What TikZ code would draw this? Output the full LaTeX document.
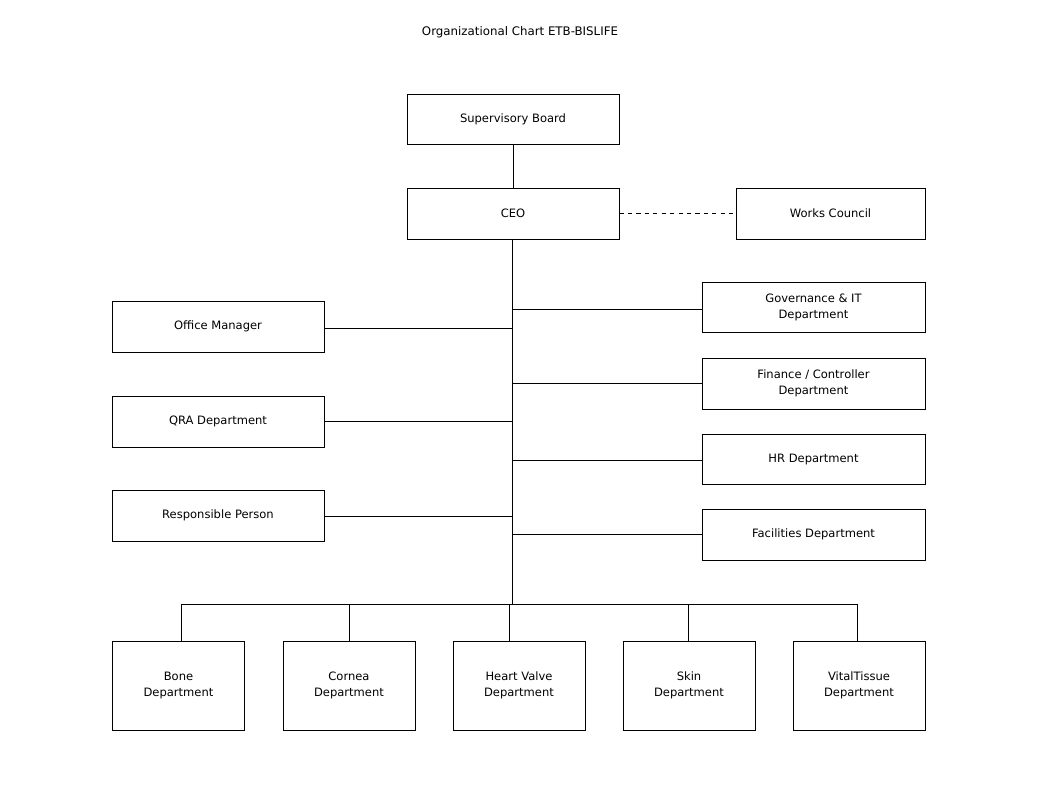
\documentclass[tikz,border=0pt]{standalone}
\usepackage{fontspec}
\setmainfont{DejaVu Sans}
\usetikzlibrary{positioning}
\tikzset{
  box/.style={draw, semithick, align=center, font=\fontsize{8.2}{11.4}\selectfont},
  link/.style={thin}
}
\begin{document}
\begin{tikzpicture}[x=0.025cm, y=-0.025cm]
            \useasboundingbox (0,0) rectangle (1041,796);
            \node[font=\fontsize{8.4}{10}\selectfont] (title) at (520,32) {Organizational Chart ETB-BISLIFE};
            \node[box, minimum width=212*0.7113pt, minimum height=50*0.7113pt] (sb) at (513,119) {Supervisory Board};
            \node[box, minimum width=212*0.7113pt, minimum height=51*0.7113pt] (ceo) at (513,213.5) {CEO};
            \node[box, minimum width=189*0.7113pt, minimum height=51*0.7113pt] (wc) at (830.5,213.5) {Works Council};
            % right side
            \node[box, minimum width=223*0.7113pt, minimum height=50*0.7113pt] (gov) at (813.5,307) {Governance \& IT\\Department};
            \node[box, minimum width=223*0.7113pt, minimum height=51*0.7113pt] (fin) at (813.5,383.5) {Finance / Controller\\Department};
            \node[box, minimum width=223*0.7113pt, minimum height=50*0.7113pt] (hr) at (813.5,459) {HR Department};
            \node[box, minimum width=223*0.7113pt, minimum height=51*0.7113pt] (fac) at (813.5,534.5) {Facilities Department};
            % left side
            \node[box, minimum width=212*0.7113pt, minimum height=51*0.7113pt] (om) at (218,326.5) {Office Manager};
            \node[box, minimum width=212*0.7113pt, minimum height=51*0.7113pt] (qra) at (218,421.5) {QRA Department};
            \node[box, minimum width=212*0.7113pt, minimum height=51*0.7113pt] (rp) at (218,515.5) {Responsible Person};
            % departments
            \foreach \name/\cx/\txt in {bone/178.5/Bone, cornea/349/Cornea, heart/519/Heart Valve, skin/689/Skin, vital/859/VitalTissue}
              \node[box, minimum width=132*0.7113pt, minimum height=89*0.7113pt] (\name) at (\cx,685.5) {\txt\\Department};
            \coordinate (bus) at (512,604);
            \draw[link] (sb) -- (ceo);
            \draw[link, dashed] (ceo) -- (wc);
            \draw[link] (ceo.south -| bus) -- (bus);
            \draw[link] (bus -| 181,0) -- (bus -| 857,0);
            \foreach \name/\dx in {bone/181, cornea/349, heart/509, skin/688, vital/857}
              \draw[link] (\dx,604) -- (\dx,0 |- \name.north);
            \foreach \name/\yy in {om/328, qra/421, rp/516}
              \draw[link] (\name.east |- 0,\yy) -- (512,\yy);
            \foreach \name/\yy in {gov/309, fin/383, hr/460, fac/534}
              \draw[link] (512,\yy) -- (\name.west |- 0,\yy);
\end{tikzpicture}
\end{document}
